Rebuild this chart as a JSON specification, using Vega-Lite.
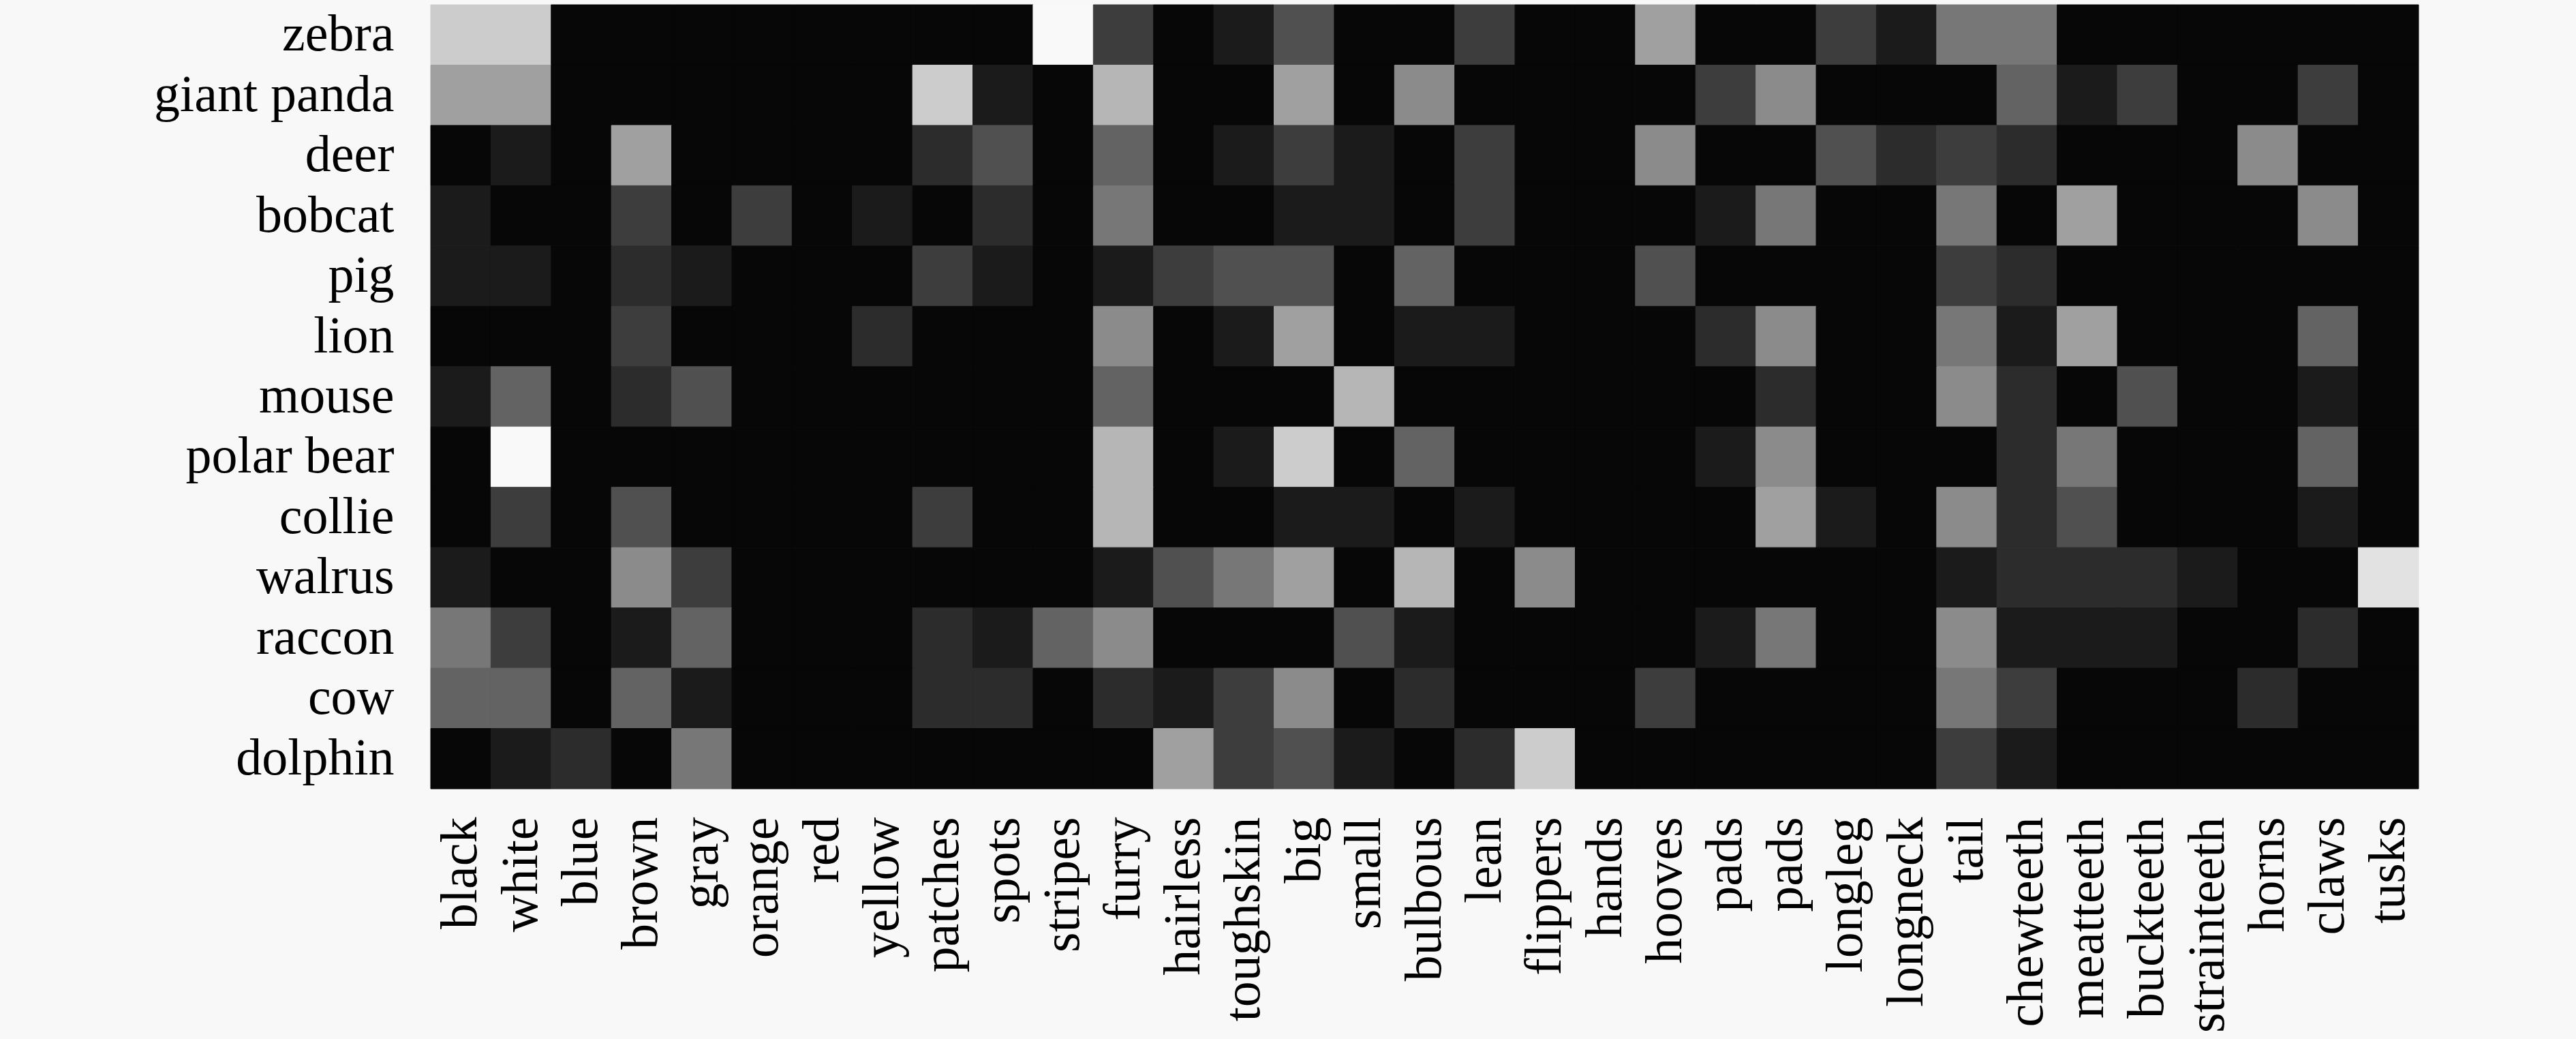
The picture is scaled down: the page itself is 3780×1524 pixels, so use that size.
{
  "$schema": "https://vega.github.io/schema/vega-lite/v6.json",
  "autosize": {"type": "none"},
  "padding": {"left": 632, "top": 7, "right": 231, "bottom": 367},
  "width": 2917,
  "height": 1150,
  "background": "#f8f8f8",
  "config": {"view": {"stroke": null}},
  "data": {"values": [
{"animal":"zebra","attr":"black","v":10},{"animal":"zebra","attr":"white","v":10},{"animal":"zebra","attr":"blue","v":0},{"animal":"zebra","attr":"brown","v":0},{"animal":"zebra","attr":"gray","v":0},{"animal":"zebra","attr":"orange","v":0},{"animal":"zebra","attr":"red","v":0},{"animal":"zebra","attr":"yellow","v":0},{"animal":"zebra","attr":"patches","v":0},{"animal":"zebra","attr":"spots","v":0},{"animal":"zebra","attr":"stripes","v":12},{"animal":"zebra","attr":"furry","v":3},{"animal":"zebra","attr":"hairless","v":0},{"animal":"zebra","attr":"toughskin","v":1},{"animal":"zebra","attr":"big","v":4},{"animal":"zebra","attr":"small","v":0},{"animal":"zebra","attr":"bulbous","v":0},{"animal":"zebra","attr":"lean","v":3},{"animal":"zebra","attr":"flippers","v":0},{"animal":"zebra","attr":"hands","v":0},{"animal":"zebra","attr":"hooves","v":8},{"animal":"zebra","attr":"pads","v":0},{"animal":"zebra","attr":"pads2","v":0},{"animal":"zebra","attr":"longleg","v":3},{"animal":"zebra","attr":"longneck","v":1},{"animal":"zebra","attr":"tail","v":6},{"animal":"zebra","attr":"chewteeth","v":6},{"animal":"zebra","attr":"meatteeth","v":0},{"animal":"zebra","attr":"buckteeth","v":0},{"animal":"zebra","attr":"strainteeth","v":0},{"animal":"zebra","attr":"horns","v":0},{"animal":"zebra","attr":"claws","v":0},{"animal":"zebra","attr":"tusks","v":0},
{"animal":"giant panda","attr":"black","v":8},{"animal":"giant panda","attr":"white","v":8},{"animal":"giant panda","attr":"blue","v":0},{"animal":"giant panda","attr":"brown","v":0},{"animal":"giant panda","attr":"gray","v":0},{"animal":"giant panda","attr":"orange","v":0},{"animal":"giant panda","attr":"red","v":0},{"animal":"giant panda","attr":"yellow","v":0},{"animal":"giant panda","attr":"patches","v":10},{"animal":"giant panda","attr":"spots","v":1},{"animal":"giant panda","attr":"stripes","v":0},{"animal":"giant panda","attr":"furry","v":9},{"animal":"giant panda","attr":"hairless","v":0},{"animal":"giant panda","attr":"toughskin","v":0},{"animal":"giant panda","attr":"big","v":8},{"animal":"giant panda","attr":"small","v":0},{"animal":"giant panda","attr":"bulbous","v":7},{"animal":"giant panda","attr":"lean","v":0},{"animal":"giant panda","attr":"flippers","v":0},{"animal":"giant panda","attr":"hands","v":0},{"animal":"giant panda","attr":"hooves","v":0},{"animal":"giant panda","attr":"pads","v":3},{"animal":"giant panda","attr":"pads2","v":7},{"animal":"giant panda","attr":"longleg","v":0},{"animal":"giant panda","attr":"longneck","v":0},{"animal":"giant panda","attr":"tail","v":0},{"animal":"giant panda","attr":"chewteeth","v":5},{"animal":"giant panda","attr":"meatteeth","v":1},{"animal":"giant panda","attr":"buckteeth","v":3},{"animal":"giant panda","attr":"strainteeth","v":0},{"animal":"giant panda","attr":"horns","v":0},{"animal":"giant panda","attr":"claws","v":3},{"animal":"giant panda","attr":"tusks","v":0},
{"animal":"deer","attr":"black","v":0},{"animal":"deer","attr":"white","v":1},{"animal":"deer","attr":"blue","v":0},{"animal":"deer","attr":"brown","v":8},{"animal":"deer","attr":"gray","v":0},{"animal":"deer","attr":"orange","v":0},{"animal":"deer","attr":"red","v":0},{"animal":"deer","attr":"yellow","v":0},{"animal":"deer","attr":"patches","v":2},{"animal":"deer","attr":"spots","v":4},{"animal":"deer","attr":"stripes","v":0},{"animal":"deer","attr":"furry","v":5},{"animal":"deer","attr":"hairless","v":0},{"animal":"deer","attr":"toughskin","v":1},{"animal":"deer","attr":"big","v":3},{"animal":"deer","attr":"small","v":1},{"animal":"deer","attr":"bulbous","v":0},{"animal":"deer","attr":"lean","v":3},{"animal":"deer","attr":"flippers","v":0},{"animal":"deer","attr":"hands","v":0},{"animal":"deer","attr":"hooves","v":7},{"animal":"deer","attr":"pads","v":0},{"animal":"deer","attr":"pads2","v":0},{"animal":"deer","attr":"longleg","v":4},{"animal":"deer","attr":"longneck","v":2},{"animal":"deer","attr":"tail","v":3},{"animal":"deer","attr":"chewteeth","v":2},{"animal":"deer","attr":"meatteeth","v":0},{"animal":"deer","attr":"buckteeth","v":0},{"animal":"deer","attr":"strainteeth","v":0},{"animal":"deer","attr":"horns","v":7},{"animal":"deer","attr":"claws","v":0},{"animal":"deer","attr":"tusks","v":0},
{"animal":"bobcat","attr":"black","v":1},{"animal":"bobcat","attr":"white","v":0},{"animal":"bobcat","attr":"blue","v":0},{"animal":"bobcat","attr":"brown","v":3},{"animal":"bobcat","attr":"gray","v":0},{"animal":"bobcat","attr":"orange","v":3},{"animal":"bobcat","attr":"red","v":0},{"animal":"bobcat","attr":"yellow","v":1},{"animal":"bobcat","attr":"patches","v":0},{"animal":"bobcat","attr":"spots","v":2},{"animal":"bobcat","attr":"stripes","v":0},{"animal":"bobcat","attr":"furry","v":6},{"animal":"bobcat","attr":"hairless","v":0},{"animal":"bobcat","attr":"toughskin","v":0},{"animal":"bobcat","attr":"big","v":1},{"animal":"bobcat","attr":"small","v":1},{"animal":"bobcat","attr":"bulbous","v":0},{"animal":"bobcat","attr":"lean","v":3},{"animal":"bobcat","attr":"flippers","v":0},{"animal":"bobcat","attr":"hands","v":0},{"animal":"bobcat","attr":"hooves","v":0},{"animal":"bobcat","attr":"pads","v":1},{"animal":"bobcat","attr":"pads2","v":6},{"animal":"bobcat","attr":"longleg","v":0},{"animal":"bobcat","attr":"longneck","v":0},{"animal":"bobcat","attr":"tail","v":6},{"animal":"bobcat","attr":"chewteeth","v":0},{"animal":"bobcat","attr":"meatteeth","v":8},{"animal":"bobcat","attr":"buckteeth","v":0},{"animal":"bobcat","attr":"strainteeth","v":0},{"animal":"bobcat","attr":"horns","v":0},{"animal":"bobcat","attr":"claws","v":7},{"animal":"bobcat","attr":"tusks","v":0},
{"animal":"pig","attr":"black","v":1},{"animal":"pig","attr":"white","v":1},{"animal":"pig","attr":"blue","v":0},{"animal":"pig","attr":"brown","v":2},{"animal":"pig","attr":"gray","v":1},{"animal":"pig","attr":"orange","v":0},{"animal":"pig","attr":"red","v":0},{"animal":"pig","attr":"yellow","v":0},{"animal":"pig","attr":"patches","v":3},{"animal":"pig","attr":"spots","v":1},{"animal":"pig","attr":"stripes","v":0},{"animal":"pig","attr":"furry","v":1},{"animal":"pig","attr":"hairless","v":3},{"animal":"pig","attr":"toughskin","v":4},{"animal":"pig","attr":"big","v":4},{"animal":"pig","attr":"small","v":0},{"animal":"pig","attr":"bulbous","v":5},{"animal":"pig","attr":"lean","v":0},{"animal":"pig","attr":"flippers","v":0},{"animal":"pig","attr":"hands","v":0},{"animal":"pig","attr":"hooves","v":4},{"animal":"pig","attr":"pads","v":0},{"animal":"pig","attr":"pads2","v":0},{"animal":"pig","attr":"longleg","v":0},{"animal":"pig","attr":"longneck","v":0},{"animal":"pig","attr":"tail","v":3},{"animal":"pig","attr":"chewteeth","v":2},{"animal":"pig","attr":"meatteeth","v":0},{"animal":"pig","attr":"buckteeth","v":0},{"animal":"pig","attr":"strainteeth","v":0},{"animal":"pig","attr":"horns","v":0},{"animal":"pig","attr":"claws","v":0},{"animal":"pig","attr":"tusks","v":0},
{"animal":"lion","attr":"black","v":0},{"animal":"lion","attr":"white","v":0},{"animal":"lion","attr":"blue","v":0},{"animal":"lion","attr":"brown","v":3},{"animal":"lion","attr":"gray","v":0},{"animal":"lion","attr":"orange","v":0},{"animal":"lion","attr":"red","v":0},{"animal":"lion","attr":"yellow","v":2},{"animal":"lion","attr":"patches","v":0},{"animal":"lion","attr":"spots","v":0},{"animal":"lion","attr":"stripes","v":0},{"animal":"lion","attr":"furry","v":7},{"animal":"lion","attr":"hairless","v":0},{"animal":"lion","attr":"toughskin","v":1},{"animal":"lion","attr":"big","v":8},{"animal":"lion","attr":"small","v":0},{"animal":"lion","attr":"bulbous","v":1},{"animal":"lion","attr":"lean","v":1},{"animal":"lion","attr":"flippers","v":0},{"animal":"lion","attr":"hands","v":0},{"animal":"lion","attr":"hooves","v":0},{"animal":"lion","attr":"pads","v":2},{"animal":"lion","attr":"pads2","v":7},{"animal":"lion","attr":"longleg","v":0},{"animal":"lion","attr":"longneck","v":0},{"animal":"lion","attr":"tail","v":6},{"animal":"lion","attr":"chewteeth","v":1},{"animal":"lion","attr":"meatteeth","v":8},{"animal":"lion","attr":"buckteeth","v":0},{"animal":"lion","attr":"strainteeth","v":0},{"animal":"lion","attr":"horns","v":0},{"animal":"lion","attr":"claws","v":5},{"animal":"lion","attr":"tusks","v":0},
{"animal":"mouse","attr":"black","v":1},{"animal":"mouse","attr":"white","v":5},{"animal":"mouse","attr":"blue","v":0},{"animal":"mouse","attr":"brown","v":2},{"animal":"mouse","attr":"gray","v":4},{"animal":"mouse","attr":"orange","v":0},{"animal":"mouse","attr":"red","v":0},{"animal":"mouse","attr":"yellow","v":0},{"animal":"mouse","attr":"patches","v":0},{"animal":"mouse","attr":"spots","v":0},{"animal":"mouse","attr":"stripes","v":0},{"animal":"mouse","attr":"furry","v":5},{"animal":"mouse","attr":"hairless","v":0},{"animal":"mouse","attr":"toughskin","v":0},{"animal":"mouse","attr":"big","v":0},{"animal":"mouse","attr":"small","v":9},{"animal":"mouse","attr":"bulbous","v":0},{"animal":"mouse","attr":"lean","v":0},{"animal":"mouse","attr":"flippers","v":0},{"animal":"mouse","attr":"hands","v":0},{"animal":"mouse","attr":"hooves","v":0},{"animal":"mouse","attr":"pads","v":0},{"animal":"mouse","attr":"pads2","v":2},{"animal":"mouse","attr":"longleg","v":0},{"animal":"mouse","attr":"longneck","v":0},{"animal":"mouse","attr":"tail","v":7},{"animal":"mouse","attr":"chewteeth","v":2},{"animal":"mouse","attr":"meatteeth","v":0},{"animal":"mouse","attr":"buckteeth","v":4},{"animal":"mouse","attr":"strainteeth","v":0},{"animal":"mouse","attr":"horns","v":0},{"animal":"mouse","attr":"claws","v":1},{"animal":"mouse","attr":"tusks","v":0},
{"animal":"polar bear","attr":"black","v":0},{"animal":"polar bear","attr":"white","v":12},{"animal":"polar bear","attr":"blue","v":0},{"animal":"polar bear","attr":"brown","v":0},{"animal":"polar bear","attr":"gray","v":0},{"animal":"polar bear","attr":"orange","v":0},{"animal":"polar bear","attr":"red","v":0},{"animal":"polar bear","attr":"yellow","v":0},{"animal":"polar bear","attr":"patches","v":0},{"animal":"polar bear","attr":"spots","v":0},{"animal":"polar bear","attr":"stripes","v":0},{"animal":"polar bear","attr":"furry","v":9},{"animal":"polar bear","attr":"hairless","v":0},{"animal":"polar bear","attr":"toughskin","v":1},{"animal":"polar bear","attr":"big","v":10},{"animal":"polar bear","attr":"small","v":0},{"animal":"polar bear","attr":"bulbous","v":5},{"animal":"polar bear","attr":"lean","v":0},{"animal":"polar bear","attr":"flippers","v":0},{"animal":"polar bear","attr":"hands","v":0},{"animal":"polar bear","attr":"hooves","v":0},{"animal":"polar bear","attr":"pads","v":1},{"animal":"polar bear","attr":"pads2","v":7},{"animal":"polar bear","attr":"longleg","v":0},{"animal":"polar bear","attr":"longneck","v":0},{"animal":"polar bear","attr":"tail","v":0},{"animal":"polar bear","attr":"chewteeth","v":2},{"animal":"polar bear","attr":"meatteeth","v":6},{"animal":"polar bear","attr":"buckteeth","v":0},{"animal":"polar bear","attr":"strainteeth","v":0},{"animal":"polar bear","attr":"horns","v":0},{"animal":"polar bear","attr":"claws","v":5},{"animal":"polar bear","attr":"tusks","v":0},
{"animal":"collie","attr":"black","v":0},{"animal":"collie","attr":"white","v":3},{"animal":"collie","attr":"blue","v":0},{"animal":"collie","attr":"brown","v":4},{"animal":"collie","attr":"gray","v":0},{"animal":"collie","attr":"orange","v":0},{"animal":"collie","attr":"red","v":0},{"animal":"collie","attr":"yellow","v":0},{"animal":"collie","attr":"patches","v":3},{"animal":"collie","attr":"spots","v":0},{"animal":"collie","attr":"stripes","v":0},{"animal":"collie","attr":"furry","v":9},{"animal":"collie","attr":"hairless","v":0},{"animal":"collie","attr":"toughskin","v":0},{"animal":"collie","attr":"big","v":1},{"animal":"collie","attr":"small","v":1},{"animal":"collie","attr":"bulbous","v":0},{"animal":"collie","attr":"lean","v":1},{"animal":"collie","attr":"flippers","v":0},{"animal":"collie","attr":"hands","v":0},{"animal":"collie","attr":"hooves","v":0},{"animal":"collie","attr":"pads","v":0},{"animal":"collie","attr":"pads2","v":8},{"animal":"collie","attr":"longleg","v":1},{"animal":"collie","attr":"longneck","v":0},{"animal":"collie","attr":"tail","v":7},{"animal":"collie","attr":"chewteeth","v":2},{"animal":"collie","attr":"meatteeth","v":4},{"animal":"collie","attr":"buckteeth","v":0},{"animal":"collie","attr":"strainteeth","v":0},{"animal":"collie","attr":"horns","v":0},{"animal":"collie","attr":"claws","v":1},{"animal":"collie","attr":"tusks","v":0},
{"animal":"walrus","attr":"black","v":1},{"animal":"walrus","attr":"white","v":0},{"animal":"walrus","attr":"blue","v":0},{"animal":"walrus","attr":"brown","v":7},{"animal":"walrus","attr":"gray","v":3},{"animal":"walrus","attr":"orange","v":0},{"animal":"walrus","attr":"red","v":0},{"animal":"walrus","attr":"yellow","v":0},{"animal":"walrus","attr":"patches","v":0},{"animal":"walrus","attr":"spots","v":0},{"animal":"walrus","attr":"stripes","v":0},{"animal":"walrus","attr":"furry","v":1},{"animal":"walrus","attr":"hairless","v":4},{"animal":"walrus","attr":"toughskin","v":6},{"animal":"walrus","attr":"big","v":8},{"animal":"walrus","attr":"small","v":0},{"animal":"walrus","attr":"bulbous","v":9},{"animal":"walrus","attr":"lean","v":0},{"animal":"walrus","attr":"flippers","v":7},{"animal":"walrus","attr":"hands","v":0},{"animal":"walrus","attr":"hooves","v":0},{"animal":"walrus","attr":"pads","v":0},{"animal":"walrus","attr":"pads2","v":0},{"animal":"walrus","attr":"longleg","v":0},{"animal":"walrus","attr":"longneck","v":0},{"animal":"walrus","attr":"tail","v":1},{"animal":"walrus","attr":"chewteeth","v":2},{"animal":"walrus","attr":"meatteeth","v":2},{"animal":"walrus","attr":"buckteeth","v":2},{"animal":"walrus","attr":"strainteeth","v":1},{"animal":"walrus","attr":"horns","v":0},{"animal":"walrus","attr":"claws","v":0},{"animal":"walrus","attr":"tusks","v":11},
{"animal":"raccon","attr":"black","v":6},{"animal":"raccon","attr":"white","v":3},{"animal":"raccon","attr":"blue","v":0},{"animal":"raccon","attr":"brown","v":1},{"animal":"raccon","attr":"gray","v":5},{"animal":"raccon","attr":"orange","v":0},{"animal":"raccon","attr":"red","v":0},{"animal":"raccon","attr":"yellow","v":0},{"animal":"raccon","attr":"patches","v":2},{"animal":"raccon","attr":"spots","v":1},{"animal":"raccon","attr":"stripes","v":5},{"animal":"raccon","attr":"furry","v":7},{"animal":"raccon","attr":"hairless","v":0},{"animal":"raccon","attr":"toughskin","v":0},{"animal":"raccon","attr":"big","v":0},{"animal":"raccon","attr":"small","v":4},{"animal":"raccon","attr":"bulbous","v":1},{"animal":"raccon","attr":"lean","v":0},{"animal":"raccon","attr":"flippers","v":0},{"animal":"raccon","attr":"hands","v":0},{"animal":"raccon","attr":"hooves","v":0},{"animal":"raccon","attr":"pads","v":1},{"animal":"raccon","attr":"pads2","v":6},{"animal":"raccon","attr":"longleg","v":0},{"animal":"raccon","attr":"longneck","v":0},{"animal":"raccon","attr":"tail","v":7},{"animal":"raccon","attr":"chewteeth","v":1},{"animal":"raccon","attr":"meatteeth","v":1},{"animal":"raccon","attr":"buckteeth","v":1},{"animal":"raccon","attr":"strainteeth","v":0},{"animal":"raccon","attr":"horns","v":0},{"animal":"raccon","attr":"claws","v":2},{"animal":"raccon","attr":"tusks","v":0},
{"animal":"cow","attr":"black","v":5},{"animal":"cow","attr":"white","v":5},{"animal":"cow","attr":"blue","v":0},{"animal":"cow","attr":"brown","v":5},{"animal":"cow","attr":"gray","v":1},{"animal":"cow","attr":"orange","v":0},{"animal":"cow","attr":"red","v":0},{"animal":"cow","attr":"yellow","v":0},{"animal":"cow","attr":"patches","v":2},{"animal":"cow","attr":"spots","v":2},{"animal":"cow","attr":"stripes","v":0},{"animal":"cow","attr":"furry","v":2},{"animal":"cow","attr":"hairless","v":1},{"animal":"cow","attr":"toughskin","v":3},{"animal":"cow","attr":"big","v":7},{"animal":"cow","attr":"small","v":0},{"animal":"cow","attr":"bulbous","v":2},{"animal":"cow","attr":"lean","v":0},{"animal":"cow","attr":"flippers","v":0},{"animal":"cow","attr":"hands","v":0},{"animal":"cow","attr":"hooves","v":3},{"animal":"cow","attr":"pads","v":0},{"animal":"cow","attr":"pads2","v":0},{"animal":"cow","attr":"longleg","v":0},{"animal":"cow","attr":"longneck","v":0},{"animal":"cow","attr":"tail","v":6},{"animal":"cow","attr":"chewteeth","v":3},{"animal":"cow","attr":"meatteeth","v":0},{"animal":"cow","attr":"buckteeth","v":0},{"animal":"cow","attr":"strainteeth","v":0},{"animal":"cow","attr":"horns","v":2},{"animal":"cow","attr":"claws","v":0},{"animal":"cow","attr":"tusks","v":0},
{"animal":"dolphin","attr":"black","v":0},{"animal":"dolphin","attr":"white","v":1},{"animal":"dolphin","attr":"blue","v":2},{"animal":"dolphin","attr":"brown","v":0},{"animal":"dolphin","attr":"gray","v":6},{"animal":"dolphin","attr":"orange","v":0},{"animal":"dolphin","attr":"red","v":0},{"animal":"dolphin","attr":"yellow","v":0},{"animal":"dolphin","attr":"patches","v":0},{"animal":"dolphin","attr":"spots","v":0},{"animal":"dolphin","attr":"stripes","v":0},{"animal":"dolphin","attr":"furry","v":0},{"animal":"dolphin","attr":"hairless","v":8},{"animal":"dolphin","attr":"toughskin","v":3},{"animal":"dolphin","attr":"big","v":4},{"animal":"dolphin","attr":"small","v":1},{"animal":"dolphin","attr":"bulbous","v":0},{"animal":"dolphin","attr":"lean","v":2},{"animal":"dolphin","attr":"flippers","v":10},{"animal":"dolphin","attr":"hands","v":0},{"animal":"dolphin","attr":"hooves","v":0},{"animal":"dolphin","attr":"pads","v":0},{"animal":"dolphin","attr":"pads2","v":0},{"animal":"dolphin","attr":"longleg","v":0},{"animal":"dolphin","attr":"longneck","v":0},{"animal":"dolphin","attr":"tail","v":3},{"animal":"dolphin","attr":"chewteeth","v":1},{"animal":"dolphin","attr":"meatteeth","v":0},{"animal":"dolphin","attr":"buckteeth","v":0},{"animal":"dolphin","attr":"strainteeth","v":0},{"animal":"dolphin","attr":"horns","v":0},{"animal":"dolphin","attr":"claws","v":0},{"animal":"dolphin","attr":"tusks","v":0}
  ]},
  "mark": {"type": "rect", "strokeWidth": 1},
  "encoding": {
    "x": {
      "field": "attr", "type": "nominal",
      "sort": ["black","white","blue","brown","gray","orange","red","yellow","patches","spots","stripes","furry","hairless","toughskin","big","small","bulbous","lean","flippers","hands","hooves","pads","pads2","longleg","longneck","tail","chewteeth","meatteeth","buckteeth","strainteeth","horns","claws","tusks"],
      "scale": {"paddingInner": 0, "paddingOuter": 0},
      "axis": {"title": null, "labelAngle": -90, "labelFont": "Liberation Serif", "labelFontSize": 76, "labelColor": "#000000", "labelPadding": 41, "labelLimit": 2000, "domain": false, "ticks": false, "grid": false, "labelExpr": "datum.label == 'pads2' ? 'pads' : datum.label"}
    },
    "y": {
      "field": "animal", "type": "nominal",
      "sort": ["zebra","giant panda","deer","bobcat","pig","lion","mouse","polar bear","collie","walrus","raccon","cow","dolphin"],
      "scale": {"paddingInner": 0, "paddingOuter": 0},
      "axis": {"title": null, "labelFont": "Liberation Serif", "labelFontSize": 76, "labelColor": "#000000", "labelPadding": 54, "labelLimit": 2000, "domain": false, "ticks": false, "grid": false}
    },
    "fill": {
      "field": "v", "type": "quantitative",
      "scale": {"domain": [0, 12], "range": ["#070707", "#f9f9f9"]},
      "legend": null
    },
    "stroke": {
      "field": "v", "type": "quantitative",
      "scale": {"domain": [0, 12], "range": ["#070707", "#f9f9f9"]},
      "legend": null
    }
  }
}
